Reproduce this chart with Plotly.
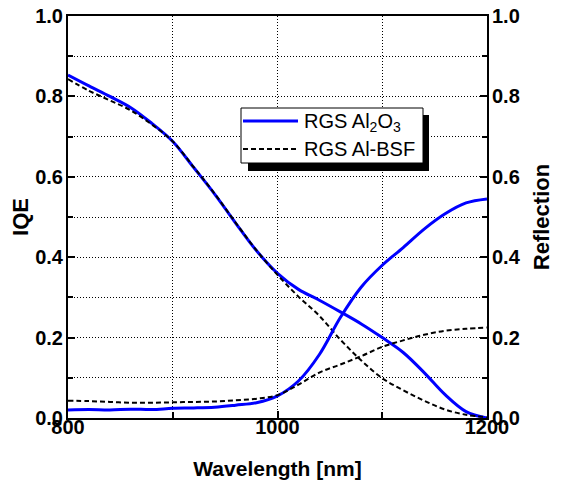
import plotly.graph_objects as go

wavelength = [800, 820, 840, 860, 880, 900, 920, 940, 960, 980, 1000,
              1020, 1040, 1060, 1080, 1100, 1120, 1140, 1160, 1180, 1200]

iqe_al2o3 = [0.853, 0.826, 0.800, 0.772, 0.733, 0.688, 0.623, 0.557, 0.485, 0.416, 0.360,
             0.320, 0.293, 0.264, 0.234, 0.200, 0.163, 0.113, 0.058, 0.016, 0.0]
iqe_albsf = [0.843, 0.814, 0.790, 0.765, 0.730, 0.688, 0.624, 0.558, 0.486, 0.417, 0.356,
             0.302, 0.254, 0.195, 0.143, 0.099, 0.069, 0.043, 0.021, 0.008, 0.002]
refl_al2o3 = [0.020, 0.021, 0.020, 0.022, 0.021, 0.024, 0.025, 0.027, 0.032, 0.038, 0.055,
              0.092, 0.158, 0.250, 0.326, 0.380, 0.424, 0.470, 0.508, 0.535, 0.545]
refl_albsf = [0.043, 0.042, 0.040, 0.038, 0.038, 0.039, 0.040, 0.041, 0.044, 0.048, 0.057,
              0.083, 0.113, 0.133, 0.154, 0.177, 0.193, 0.207, 0.217, 0.222, 0.225]

x_ticks = [800, 1000, 1200]
y_ticks = [0.0, 0.2, 0.4, 0.6, 0.8, 1.0]
legend_names = ["RGS Al<sub>2</sub>O<sub>3</sub>", "RGS Al-BSF"]

FONT = "Arial, Liberation Sans, sans-serif"
BLUE = "#0000ff"
DASH = "5px,3px"

# page has an 8px body margin: work in page pixels, convert to figure pixels
OFF = 8
W, H = 561 - OFF, 483 - OFF
L, R, T, B = 68 - OFF, 487 - OFF, 16 - OFF, 418 - OFF


def px(x):
    return (x - OFF - L) / (R - L)


def py(y):
    return (B - (y - OFF)) / (B - T)


fig = go.Figure()
fig.add_trace(go.Scatter(x=wavelength, y=iqe_al2o3, mode="lines", name=legend_names[0], showlegend=False,
                         line=dict(color=BLUE, width=3, shape="spline")))
fig.add_trace(go.Scatter(x=wavelength, y=iqe_albsf, mode="lines", name=legend_names[1], showlegend=False,
                         line=dict(color="black", width=2, dash=DASH, shape="spline")))
fig.add_trace(go.Scatter(x=wavelength, y=refl_al2o3, mode="lines", showlegend=False, yaxis="y2",
                         line=dict(color=BLUE, width=3, shape="spline")))
fig.add_trace(go.Scatter(x=wavelength, y=refl_albsf, mode="lines", showlegend=False, yaxis="y2",
                         line=dict(color="black", width=2, dash=DASH, shape="spline")))

axis_common = dict(showline=True, linecolor="black", linewidth=2, ticks="inside",
                   ticklen=7, tickwidth=2, tickcolor="black", zeroline=False, automargin=False,
                   ticklabeloverflow="allow",
                   tickfont=dict(family=FONT, size=20, color="black", weight="bold"))
grid = dict(showgrid=True, gridcolor="black", griddash="1px,2px", gridwidth=1)

fig.update_layout(
    width=W, height=H,
    margin=dict(l=L, r=W - R, t=T, b=H - B),
    paper_bgcolor="white", plot_bgcolor="white",
    font=dict(family=FONT, color="black"),
    showlegend=False,
    xaxis=dict(range=[800, 1200], tickvals=x_ticks, ticktext=[str(v) for v in x_ticks],
               mirror=True, ticklabelstandoff=-10,
               minor=dict(dtick=100, tick0=800, ticks="inside", ticklen=6, tickwidth=1.5,
                          tickcolor="black", **grid),
               title=dict(text="<b>Wavelength [nm]</b>", font=dict(family=FONT, size=21), standoff=24),
               **grid, **axis_common),
    yaxis=dict(range=[0, 1.0], tickvals=y_ticks, tickformat=".1f", ticklabelstandoff=-1,
               minor=dict(dtick=0.1, tick0=0, ticks="inside", ticklen=5, tickwidth=1.5,
                          tickcolor="black", **grid),
               title=dict(text="<b>IQE</b>", font=dict(family=FONT, size=22), standoff=5),
               **grid, **axis_common),
    yaxis2=dict(range=[0, 1.0], tickvals=y_ticks, tickformat=".1f", overlaying="y", side="right",
                showgrid=False, ticklabelstandoff=-1,
                minor=dict(dtick=0.1, tick0=0, ticks="inside", ticklen=5, tickwidth=1.5, tickcolor="black"),
                title=dict(text="<b>Reflection</b>", font=dict(family=FONT, size=22), standoff=14),
                **axis_common),
    shapes=[
        # legend shadow
        dict(type="rect", xref="paper", yref="paper", x0=px(248), x1=px(429), y0=py(171), y1=py(115),
             fillcolor="black", line=dict(width=0), layer="above"),
        # legend box
        dict(type="rect", xref="paper", yref="paper", x0=px(241), x1=px(423), y0=py(163), y1=py(108),
             fillcolor="white", line=dict(color="black", width=1), layer="above"),
        # legend samples
        dict(type="line", xref="paper", yref="paper", x0=px(243), x1=px(298), y0=py(121), y1=py(121),
             line=dict(color=BLUE, width=3), layer="above"),
        dict(type="line", xref="paper", yref="paper", x0=px(243), x1=px(298), y0=py(149), y1=py(149),
             line=dict(color="black", width=2, dash=DASH), layer="above"),
    ],
    annotations=[
        dict(xref="paper", yref="paper", x=px(302), y=py(122), xanchor="left", yanchor="middle",
             text=legend_names[0], showarrow=False, font=dict(family=FONT, size=20, color="black")),
        dict(xref="paper", yref="paper", x=px(302), y=py(149), xanchor="left", yanchor="middle",
             text=legend_names[1], showarrow=False, font=dict(family=FONT, size=20, color="black")),
    ],
)

fig.write_html("out.html")
